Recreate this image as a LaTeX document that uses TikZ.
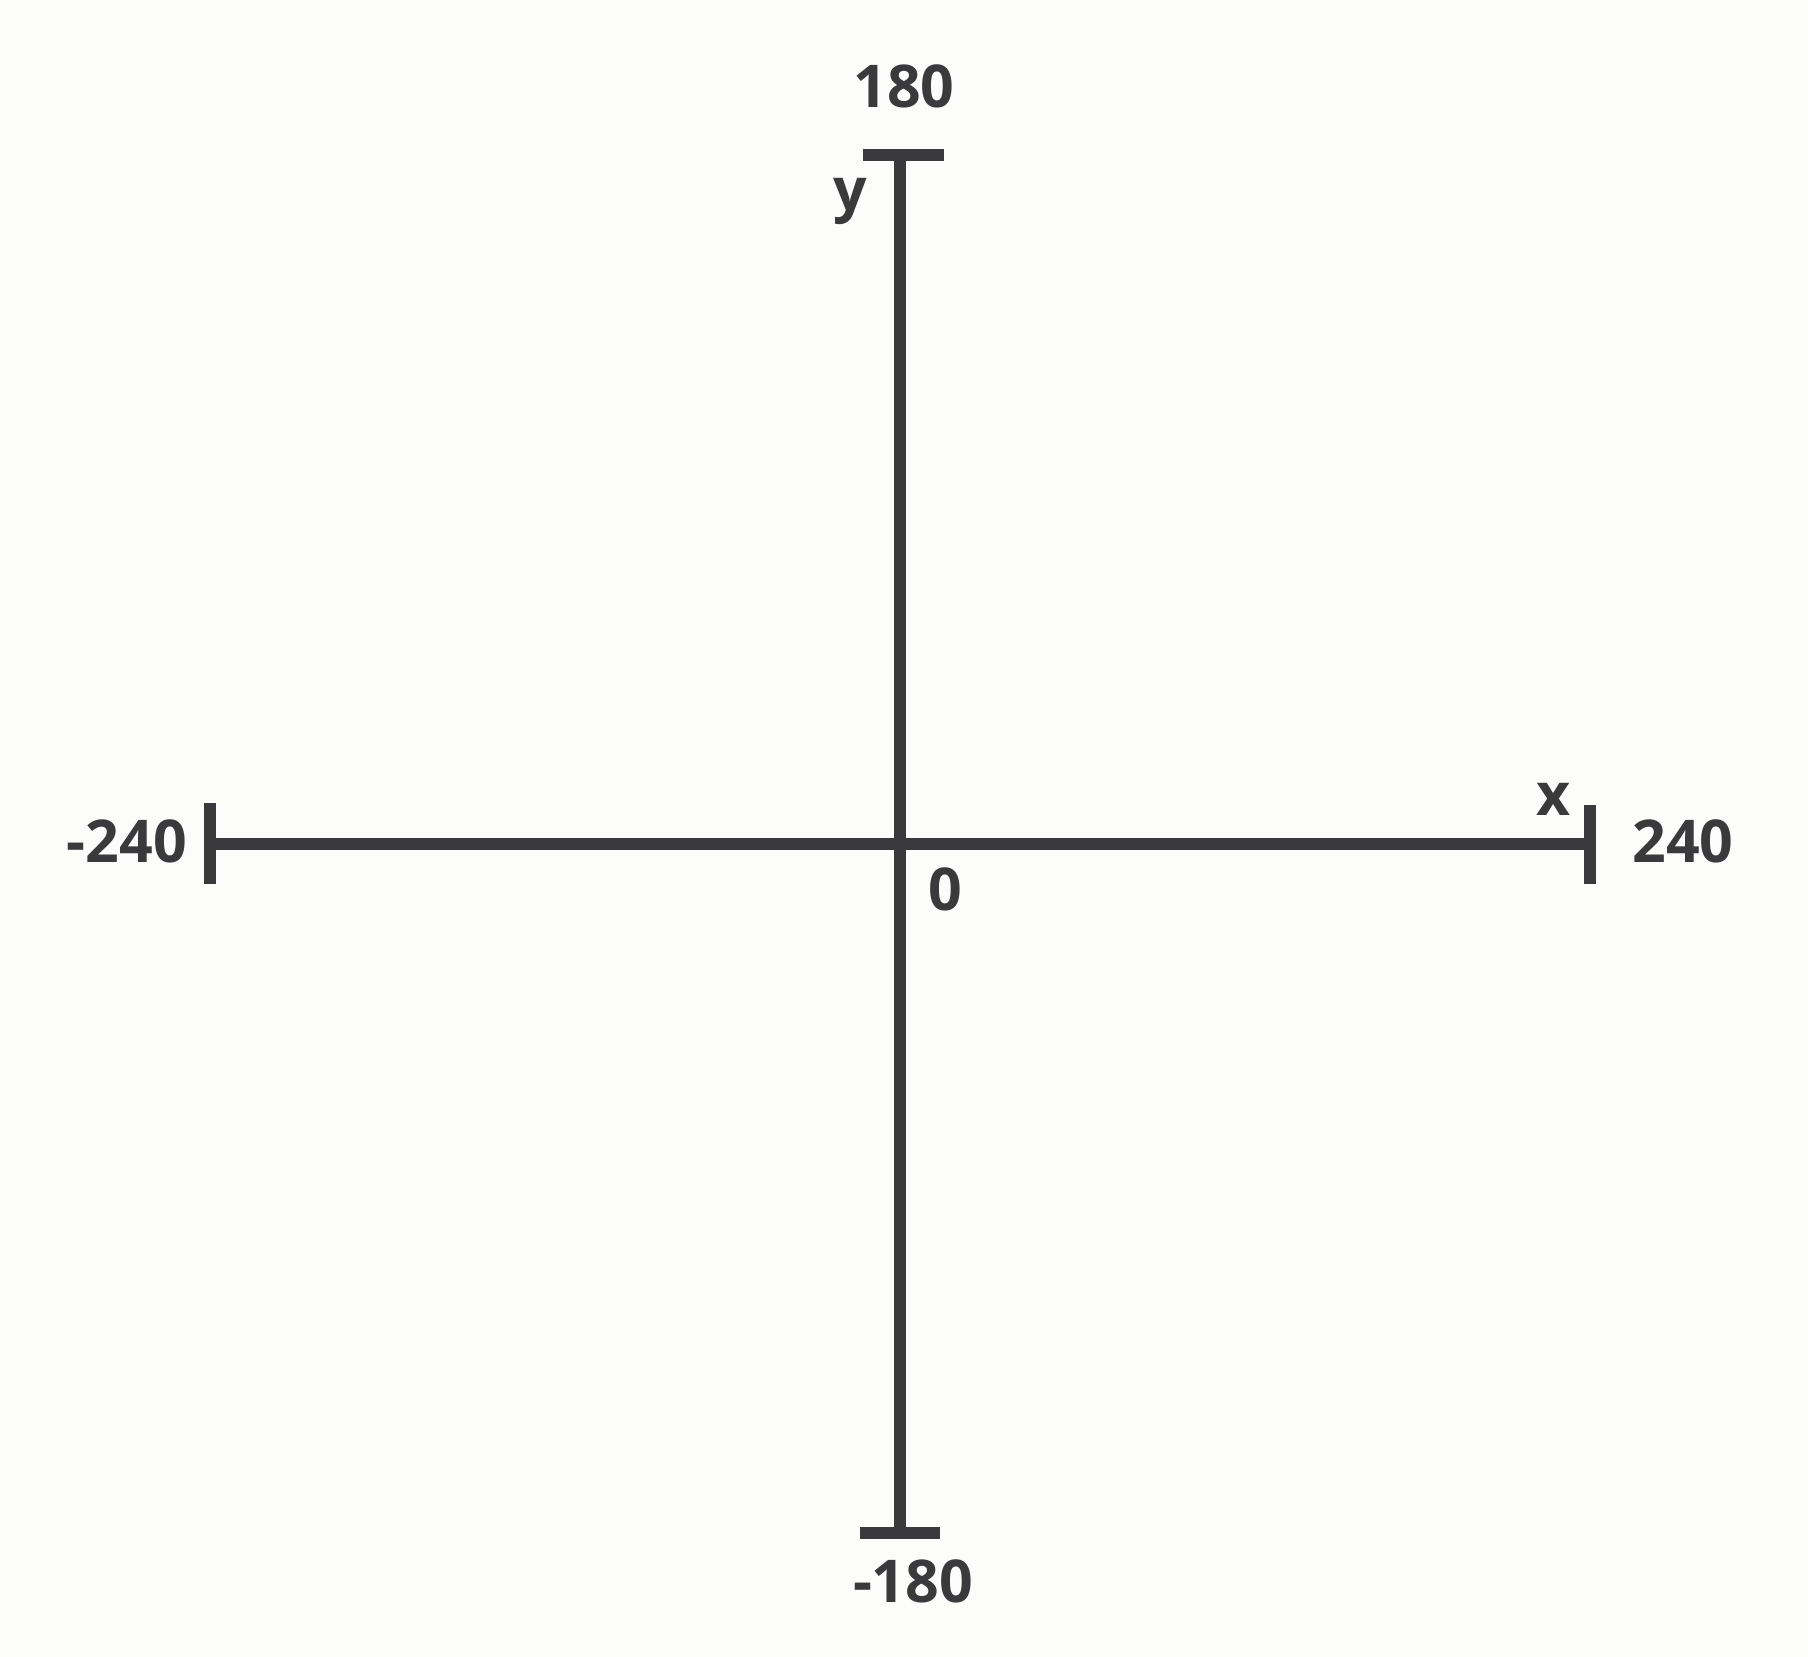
\documentclass[tikz,border=0pt]{standalone}
\usepackage{fontspec}
\setmainfont{Open Sans}
\begin{document}
\begin{tikzpicture}[x=1pt,y=-1pt,
  ax/.style={line width=12.5pt,draw=axcol},
  lbl/.style={anchor=base,inner sep=0pt,text=axcol,font=\fontsize{59}{61}\selectfont\bfseries}]
\definecolor{axcol}{HTML}{3A3A3D}
\definecolor{bgcol}{HTML}{FCFCFA}
\fill[bgcol] (0,0) rectangle (1808,1657);
\useasboundingbox (0,0) rectangle (1808,1657);
\coordinate (O) at (900,844);
\coordinate (top) at (900,155);
\coordinate (bot) at (900,1533);
\coordinate (lft) at (210,844);
\coordinate (rgt) at (1590,844);
\coordinate (topL) at (863,155);
\coordinate (topR) at (944,155);
\coordinate (botL) at (860,1533);
\coordinate (botR) at (940,1533);
\coordinate (lftT) at (210,803);
\coordinate (lftB) at (210,884);
\coordinate (rgtT) at (1590,805);
\coordinate (rgtB) at (1590,884);
\draw[ax] (top) -- (bot);
\draw[ax] (lft) -- (rgt);
\draw[ax] (topL) -- (topR);
\draw[ax] (botL) -- (botR);
\draw[ax] (lftT) -- (lftB);
\draw[ax] (rgtT) -- (rgtB);
\node[lbl] (ymax) at (904,107) {180};
\node[lbl] (ymin) at (913,1602) {-180};
\node[lbl] (xmin) at (127,862) {-240};
\node[lbl] (xmax) at (1683,862) {240};
\node[lbl] (zero) at (945,910) {0};
\node[lbl] (xl) at (1554,815) {x};
\node[lbl] (yl) at (850,210) {y};
\end{tikzpicture}
\end{document}
